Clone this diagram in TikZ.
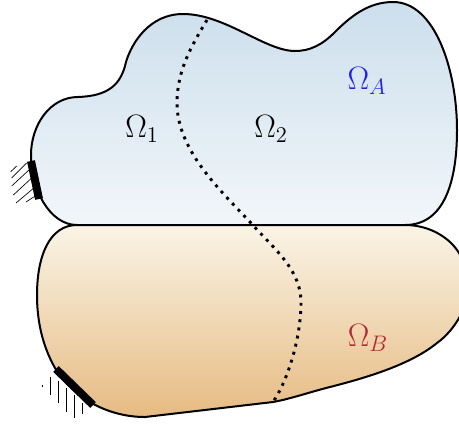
\documentclass[tikz,border=0pt]{standalone}
\begin{document}
\begin{tikzpicture}[x=0.75pt,y=-0.75pt,
  outline/.style={draw=black,line width=1.5pt},
  clamp/.style={line width=6pt,black},
  hatch/.style={line width=0.5pt,black},
  seam/.style={line width=2.2pt,black,dash pattern=on 2.2pt off 4pt},
  lbl/.style={inner sep=0pt,font=\huge,scale=1.17}]
\useasboundingbox (0,0) rectangle (459,425);
\clip (0,0) rectangle (459,425);
% upper body
\shade[top color={rgb,255:red,204;green,223;blue,236},bottom color={rgb,255:red,242;green,246;blue,250}]
  (77,225) -- (405,225)
  .. controls (445,225) and (457,180) .. (457,130)
  .. controls (457,70) and (435,2) .. (393,2)
  .. controls (368,2) and (350,17) .. (335,32)
  .. controls (322,45) and (310,51) .. (295,51)
  .. controls (265,51) and (225,14) .. (183,14)
  .. controls (150,14) and (132,42) .. (126,62)
  .. controls (121,85) and (108,96) .. (78,97)
  .. controls (50,97) and (31,125) .. (31,155)
  .. controls (31,190) and (50,225) .. (77,225) -- cycle;
% lower body
\shade[top color={rgb,255:red,250;green,244;blue,231},bottom color={rgb,255:red,230;green,187;blue,130}]
  (77,225) -- (405,225)
  .. controls (430,225) and (450,238) .. (459,253)
  .. controls (465,262) and (468,272) .. (468,282)
  .. controls (470,305) and (455,330) .. (437,343)
  .. controls (410,365) and (365,378) .. (330,387)
  .. controls (310,392) and (290,399) .. (273,402)
  -- (145,417)
  .. controls (110,417) and (75,400) .. (55,368)
  .. controls (42,345) and (37,320) .. (37,295)
  .. controls (37,255) and (50,225) .. (77,225) -- cycle;
% outlines
\draw[outline]
  (77,225) -- (405,225)
  .. controls (445,225) and (457,180) .. (457,130)
  .. controls (457,70) and (435,2) .. (393,2)
  .. controls (368,2) and (350,17) .. (335,32)
  .. controls (322,45) and (310,51) .. (295,51)
  .. controls (265,51) and (225,14) .. (183,14)
  .. controls (150,14) and (132,42) .. (126,62)
  .. controls (121,85) and (108,96) .. (78,97)
  .. controls (50,97) and (31,125) .. (31,155)
  .. controls (31,190) and (50,225) .. (77,225) -- cycle;
\draw[outline]
  (405,225)
  .. controls (430,225) and (450,238) .. (459,253)
  .. controls (465,262) and (468,272) .. (468,282)
  .. controls (470,305) and (455,330) .. (437,343)
  .. controls (410,365) and (365,378) .. (330,387)
  .. controls (310,392) and (290,399) .. (273,402)
  -- (145,417)
  .. controls (110,417) and (75,400) .. (55,368)
  .. controls (42,345) and (37,320) .. (37,295)
  .. controls (37,255) and (50,225) .. (77,225);
% interface
\draw[seam] (207,20)
  .. controls (192,45) and (177,70) .. (177,103)
  .. controls (177,150) and (220,190) .. (250,222)
  .. controls (275,250) and (302,270) .. (301,305)
  .. controls (300,345) and (285,385) .. (273,402);
% left clamp hatching
\draw[hatch] (10.7,171.7) -- (16.7,166);
\draw[hatch] (11.7,178) -- (26.7,163);
\draw[hatch] (11.7,186) -- (29,170);
\draw[hatch] (13.3,195) -- (31.7,178);
\draw[hatch] (16,203) -- (35,187);
\draw[hatch] (26,202) -- (36.7,195);
\draw[clamp] (31,161) -- (39,199);
% lower clamp hatching
\draw[hatch] (42.7,385) -- (42.7,387);
\draw[hatch] (50,377) -- (50,395);
\draw[hatch] (58,381) -- (58,403);
\draw[hatch] (66,388) -- (66,412);
\draw[hatch] (74,395) -- (74,418);
\draw[hatch] (82,403) -- (82,414);
\draw[clamp] (56,369) -- (93,405);
% labels
\node[lbl] (o1) at (142,129) {$\Omega_1$};
\node[lbl] (o2) at (271,129) {$\Omega_2$};
\node[lbl,text={rgb,255:red,30;green,30;blue,250}] (oa) at (367,81) {$\Omega_A$};
\node[lbl,text={rgb,255:red,180;green,40;blue,50}] (ob) at (368,338) {$\Omega_B$};
\end{tikzpicture}
\end{document}
